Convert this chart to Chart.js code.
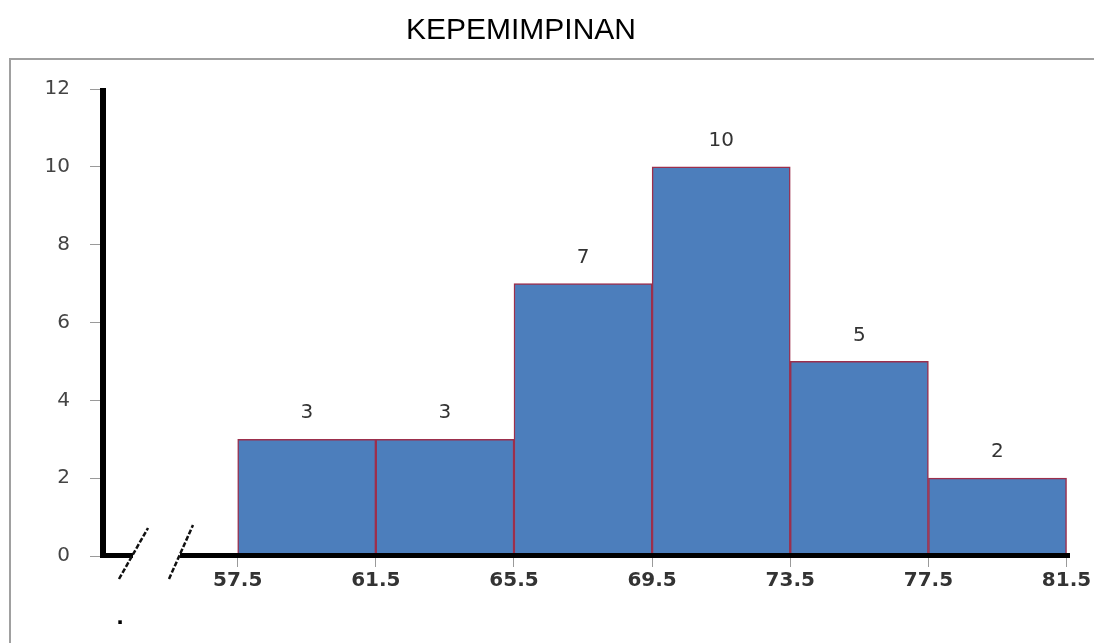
<!DOCTYPE html>
<html>
<head>
<meta charset="utf-8">
<title>KEPEMIMPINAN</title>
<script src="https://cdn.jsdelivr.net/npm/chart.js@4/dist/chart.umd.min.js"></script>
<style>
  html, body { margin: 0; padding: 0; background: #ffffff; }
  #wrap { width: 1094px; height: 643px; }
</style>
</head>
<body>
<div id="wrap"><canvas id="chart" width="1094" height="643"></canvas></div>
<script>
// Histogram: class boundaries, class midpoints and frequencies
const chartTitle = 'KEPEMIMPINAN';
const classBoundaries = [57.5, 61.5, 65.5, 69.5, 73.5, 77.5, 81.5];
const classMidpoints = [59.5, 63.5, 67.5, 71.5, 75.5, 79.5];
const frequencies = [3, 3, 7, 10, 5, 2];
const frequencyTicks = [0, 2, 4, 6, 8, 10, 12];

const barPoints = classMidpoints.map((x, i) => ({ x: x, y: frequencies[i] }));

// Frame, thick axes with a broken x axis, value labels and the heading
const decorations = {
  id: 'decorations',
  afterDraw(chart) {
    const ctx = chart.ctx;
    const area = chart.chartArea;
    const ys = chart.scales.y;
    ctx.save();

    // outer frame (open on the right and bottom)
    ctx.strokeStyle = '#a0a0a0';
    ctx.lineWidth = 2;
    ctx.beginPath();
    ctx.moveTo(1094, 59);
    ctx.lineTo(10, 59);
    ctx.lineTo(10, 643);
    ctx.stroke();

    // y axis
    const y0 = ys.getPixelForValue(0);
    const yTop = ys.getPixelForValue(12);
    ctx.fillStyle = '#000000';
    ctx.fillRect(area.left - 3, yTop - 1, 6, y0 - yTop + 3);

    // x axis, interrupted near the origin
    ctx.fillRect(area.left - 3, y0 - 3, 33, 5);
    ctx.fillRect(180, y0 - 3, area.right - 180, 5);

    // break marks
    ctx.strokeStyle = '#111111';
    ctx.lineWidth = 2.5;
    ctx.setLineDash([5, 2]);
    ctx.beginPath();
    ctx.moveTo(119, y0 + 23);
    ctx.lineTo(148, y0 - 28);
    ctx.moveTo(169, y0 + 23);
    ctx.lineTo(193, y0 - 31);
    ctx.stroke();
    ctx.setLineDash([]);

    // stray full stop below the axis
    ctx.fillStyle = '#000000';
    ctx.font = 'bold 20px "DejaVu Sans"';
    ctx.textAlign = 'center';
    ctx.textBaseline = 'alphabetic';
    ctx.fillText('.', 120, 624);

    // value labels above the bars
    const meta = chart.getDatasetMeta(0);
    ctx.fillStyle = '#333333';
    ctx.font = '20px "DejaVu Sans"';
    ctx.textBaseline = 'middle';
    meta.data.forEach((bar, i) => {
      ctx.fillText(String(frequencies[i]), bar.x, bar.y - 26);
    });

    // heading
    ctx.fillStyle = '#000000';
    ctx.font = '30px "Liberation Sans"';
    ctx.fillText(chartTitle, 521, 31);

    ctx.restore();
  }
};

new Chart(document.getElementById('chart'), {
  type: 'bar',
  data: {
    datasets: [{
      data: barPoints,
      backgroundColor: '#4c7ebc',
      borderColor: '#9c2f4c',
      borderWidth: { top: 1.5, left: 1.5, right: 1.5, bottom: 0 },
      borderSkipped: 'bottom',
      barPercentage: 1,
      categoryPercentage: 1
    }]
  },
  options: {
    responsive: false,
    animation: false,
    events: [],
    layout: { padding: { left: 0, right: 24, top: 89, bottom: 0 } },
    plugins: {
      legend: { display: false },
      tooltip: { enabled: false },
      title: { display: false }
    },
    scales: {
      x: {
        type: 'linear',
        offset: false,
        min: 53.6,
        max: 81.6,
        afterBuildTicks: (scale) => {
          scale.ticks = classBoundaries.map(v => ({ value: v }));
        },
        afterFit: (scale) => { scale.height = 87; },
        border: { display: false },
        grid: { offset: false, drawOnChartArea: false, tickLength: 11, color: '#9a9a9a', lineWidth: 1 },
        ticks: {
          autoSkip: false,
          maxRotation: 0,
          padding: 2,
          color: '#333333',
          font: { family: '"DejaVu Sans"', size: 20, weight: 'bold' },
          callback: (v) => Number(v).toFixed(1)
        }
      },
      y: {
        min: 0,
        max: 12,
        afterBuildTicks: (scale) => {
          scale.ticks = frequencyTicks.map(v => ({ value: v }));
        },
        afterFit: (scale) => { scale.width = 103; },
        border: { display: false },
        grid: { drawOnChartArea: false, tickLength: 13, color: '#9a9a9a', lineWidth: 1 },
        ticks: {
          padding: 20,
          color: '#444444',
          font: { family: '"DejaVu Sans"', size: 20 }
        }
      }
    }
  },
  plugins: [decorations]
});
</script>
</body>
</html>
